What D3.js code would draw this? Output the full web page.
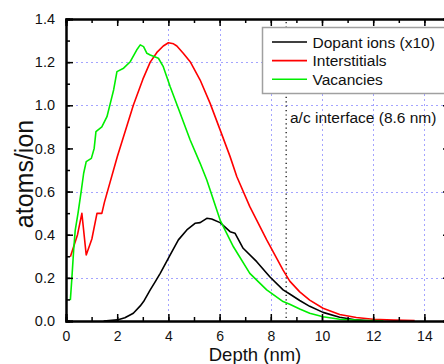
<!DOCTYPE html>
<html>
<head>
<meta charset="utf-8">
<script src="https://cdn.jsdelivr.net/npm/d3@7"></script>
<style>
  body { margin: 0; background: #fff; }
  svg { display: block; font-family: "Liberation Sans", Arial, sans-serif; }
</style>
</head>
<body>
<svg id="chart" width="444" height="364"></svg>
<script>
// depth (nm), atoms/ion
const dopant = [
  [1.47, 0], [2.0, 0.005], [2.3, 0.015], [2.63, 0.036], [2.9, 0.07], [3.03, 0.09],
  [3.29, 0.144], [3.5, 0.185], [3.68, 0.221], [4.07, 0.306], [4.39, 0.376], [4.72, 0.422],
  [5.04, 0.453], [5.24, 0.456], [5.5, 0.476], [5.69, 0.473], [6.02, 0.456], [6.41, 0.414],
  [6.6, 0.407], [6.92, 0.337], [7.45, 0.275], [7.96, 0.205], [8.48, 0.144], [8.74, 0.125],
  [9.13, 0.095], [9.52, 0.068], [10.04, 0.04], [10.69, 0.017], [11.34, 0.005], [12.0, 0]
];
const interstitials = [
  [0.17, 0.298], [0.45, 0.40], [0.62, 0.499], [0.79, 0.306], [1.01, 0.38], [1.21, 0.499],
  [1.4, 0.499], [1.5, 0.55], [2.0, 0.76], [2.63, 1.0], [3.0, 1.12], [3.29, 1.2],
  [3.55, 1.245], [3.8, 1.275], [4.0, 1.29], [4.2, 1.285], [4.33, 1.275], [4.58, 1.241],
  [4.85, 1.202], [5.24, 1.117], [5.63, 1.009], [6.02, 0.886], [6.41, 0.762], [6.67, 0.67],
  [7.18, 0.53], [7.84, 0.376], [8.48, 0.236], [8.74, 0.185], [9.13, 0.135], [9.52, 0.097],
  [10.04, 0.059], [10.69, 0.03], [11.34, 0.016], [11.99, 0.008], [12.8, 0.004], [13.62, 0.002]
];
const vacancies = [
  [0.17, 0.097], [0.23, 0.2], [0.3, 0.33], [0.36, 0.42], [0.47, 0.5], [0.6, 0.607],
  [0.69, 0.685], [0.79, 0.739], [0.99, 0.754], [1.1, 0.8], [1.17, 0.878], [1.4, 0.9],
  [1.6, 0.947], [1.73, 1.009], [1.86, 1.071], [1.99, 1.156], [2.25, 1.172], [2.51, 1.202],
  [2.76, 1.256], [2.9, 1.28], [3.03, 1.272], [3.16, 1.241], [3.29, 1.233], [3.61, 1.218],
  [3.8, 1.179], [4.07, 1.086], [4.46, 0.963], [4.85, 0.839], [5.24, 0.731], [5.5, 0.654],
  [6.02, 0.468], [6.54, 0.344], [7.18, 0.221], [7.84, 0.144], [8.48, 0.09], [8.74, 0.078],
  [9.13, 0.056], [9.52, 0.036], [10.04, 0.02], [10.69, 0.008], [11.5, 0.003], [12.4, 0.001]
];

const seriesNames = ["Dopant ions (x10)", "Interstitials", "Vacancies"];
const seriesColors = ["#000000", "#ff0000", "#00ee00"];

const xTicks = [0, 2, 4, 6, 8, 10, 12, 14];
const yTicks = [0.0, 0.2, 0.4, 0.6, 0.8, 1.0, 1.2, 1.4];
const xGrid = [4, 6, 8, 10, 12, 14];
const yGrid = [0.2, 0.6, 1.0, 1.2];
const interfaceDepth = 8.6;

const svg = d3.select("#chart");
const mLeft = 66, mRight = 450, mTop = 19, mBottom = 321;

const x = d3.scaleLinear().domain([0, 15]).range([mLeft, mRight]);
const y = d3.scaleLinear().domain([0, 1.4]).range([mBottom, mTop]);

// grid
const grid = svg.append("g")
  .attr("stroke", "#a4a4ff")
  .attr("stroke-width", 1)
  .attr("stroke-dasharray", "2,3");
grid.selectAll("line.gy")
  .data(yGrid)
  .enter()
  .append("line")
  .attr("x1", mLeft).attr("x2", mRight)
  .attr("y1", d => Math.round(y(d)) + 0.5).attr("y2", d => Math.round(y(d)) + 0.5);
grid.selectAll("line.gx")
  .data(xGrid)
  .enter()
  .append("line")
  .attr("y1", mTop).attr("y2", mBottom)
  .attr("x1", d => Math.round(x(d)) + 0.5).attr("x2", d => Math.round(x(d)) + 0.5);

// interface marker
svg.append("line")
  .attr("x1", x(interfaceDepth)).attr("x2", x(interfaceDepth))
  .attr("y1", mTop + 3).attr("y2", mBottom)
  .attr("stroke", "#000")
  .attr("stroke-width", 1.2)
  .attr("stroke-dasharray", "1.2,3.2");

svg.append("text")
  .attr("x", 290)
  .attr("y", 123)
  .attr("font-size", 15.5)
  .attr("fill", "#111")
  .text(`a/c interface (${interfaceDepth} nm)`);

// curves
const line = d3.line()
  .x(d => x(d[0]))
  .y(d => y(d[1]));

[dopant, interstitials, vacancies].forEach((data, i) => {
  svg.append("path")
    .datum(data)
    .attr("fill", "none")
    .attr("stroke", seriesColors[i])
    .attr("stroke-width", 1.6)
    .attr("stroke-linejoin", "round")
    .attr("d", line);
});

// axes: ticks inward on all four sides
function frameAxis(axis, transform) {
  return svg.append("g")
    .attr("transform", transform)
    .call(axis)
    .call(g => g.select(".domain").attr("stroke-width", 2))
    .call(g => g.selectAll(".tick line").attr("stroke-width", 1.5));
}

const xMinor = d3.range(0, 16, 1);
const yMinor = d3.range(0, 1.45, 0.1);

frameAxis(d3.axisBottom(x).tickValues(xMinor).tickSize(-4).tickFormat(""), `translate(0,${mBottom})`);
frameAxis(d3.axisTop(x).tickValues(xMinor).tickSize(-4).tickFormat(""), `translate(0,${mTop})`);
frameAxis(d3.axisLeft(y).tickValues(yMinor).tickSize(-4).tickFormat(""), `translate(${mLeft},0)`);
frameAxis(d3.axisRight(y).tickValues(yMinor).tickSize(-4).tickFormat(""), `translate(${mRight},0)`);

const xAxis = frameAxis(d3.axisBottom(x).tickValues(xTicks).tickSize(-7).tickPadding(10.5).tickFormat(d3.format("d")), `translate(0,${mBottom})`);
xAxis.selectAll("text").attr("font-size", 14).attr("fill", "#111");
frameAxis(d3.axisTop(x).tickValues(xTicks).tickSize(-7).tickFormat(""), `translate(0,${mTop})`);
const yAxis = frameAxis(d3.axisLeft(y).tickValues(yTicks).tickSize(-7).tickPadding(11).tickFormat(d3.format(".1f")), `translate(${mLeft},0)`);
yAxis.selectAll("text").attr("font-size", 14.5).attr("fill", "#111");
frameAxis(d3.axisRight(y).tickValues(yTicks).tickSize(-7).tickFormat(""), `translate(${mRight},0)`);
svg.selectAll(".domain").attr("stroke", "#000");

// axis titles
svg.append("text")
  .attr("x", (mLeft + mRight) / 2 - 3)
  .attr("y", 360.5)
  .attr("text-anchor", "middle")
  .attr("font-size", 18.5)
  .attr("fill", "#111")
  .text("Depth (nm)");

svg.append("text")
  .attr("transform", `translate(33,${(mTop + mBottom) / 2 + 4}) rotate(-90)`)
  .attr("text-anchor", "middle")
  .attr("font-size", 25)
  .attr("fill", "#111")
  .text("atoms/ion");

// legend
const legend = svg.append("g")
  .attr("transform", "translate(262,27)");
legend.append("rect")
  .attr("x", 0.5).attr("y", 0.5)
  .attr("width", 200).attr("height", 66)
  .attr("fill", "#fff")
  .attr("stroke", "#a0a0a0")
  .attr("stroke-width", 1.5);
seriesNames.forEach((name, i) => {
  const row = legend.append("g")
    .attr("transform", `translate(0,${15 + i * 18.6})`);
  row.append("line")
    .attr("x1", 10).attr("x2", 45)
    .attr("stroke", seriesColors[i])
    .attr("stroke-width", 1.6);
  row.append("text")
    .attr("x", 50.5)
    .attr("y", 5.5)
    .attr("font-size", 15.5)
    .attr("fill", "#111")
    .text(name);
});
</script>
</body>
</html>
